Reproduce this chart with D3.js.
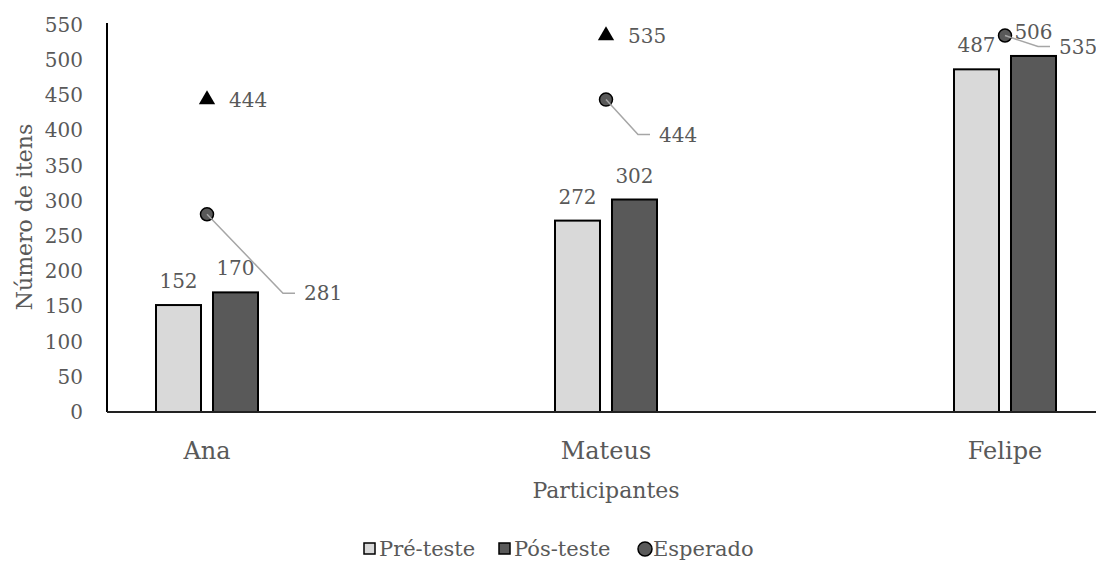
<!DOCTYPE html>
<html>
<head>
<meta charset="utf-8">
<script src="https://cdn.jsdelivr.net/npm/d3@7"></script>
<style>
  html, body { margin: 0; padding: 0; background: #fff; }
  svg { display: block; font-family: "DejaVu Serif", serif; }
</style>
</head>
<body>
<svg id="chart" width="1096" height="572"></svg>
<script>
// Participants and their scores
const participantes = ["Ana", "Mateus", "Felipe"];
const preTeste = [152, 272, 487];
const posTeste = [170, 302, 506];
const esperado = [281, 444, 535];
const meta = [444, 535, null];
const yTicks = [0, 50, 100, 150, 200, 250, 300, 350, 400, 450, 500, 550];

// Leader-line elbows for the "Esperado" labels (pixel offsets from the point)
const leaderOffsets = [[76, 79], [32, 35], [33, 11]];

const svg = d3.select("#chart");
const textColor = "#595959";
const fontSize = 20;

const x = d3.scalePoint().domain(participantes).range([207, 1005]);
const sub = d3.scaleBand().domain(["pre", "pos"]).range([-51, 51]).paddingInner(0.2105);
const y = d3.scaleLinear().domain([0, 550]).range([412, 25]);

// Y axis labels
const yAxis = d3.axisLeft(y).tickValues(yTicks).tickSize(0).tickPadding(0);
const gy = svg.append("g").attr("transform", "translate(83,0)").call(yAxis);
gy.select(".domain").remove();
gy.selectAll("text")
  .attr("fill", textColor)
  .style("font-size", fontSize + "px")
  .style("font-family", "DejaVu Serif, serif");

// Y axis line
svg.append("line")
  .attr("x1", 107).attr("x2", 107)
  .attr("y1", y(0)).attr("y2", y(550) - 2)
  .attr("stroke", "#000").attr("stroke-width", 2);

// Bars
const series = [
  { key: "pre", values: preTeste, fill: "#d9d9d9" },
  { key: "pos", values: posTeste, fill: "#595959" }
];
series.forEach(s => {
  const g = svg.append("g");
  g.selectAll("rect")
    .data(participantes.map((p, i) => ({ p, v: s.values[i] })))
    .join("rect")
    .attr("x", d => x(d.p) + sub(s.key))
    .attr("y", d => y(d.v))
    .attr("width", sub.bandwidth())
    .attr("height", d => y(0) - y(d.v))
    .attr("fill", s.fill)
    .attr("stroke", "#000")
    .attr("stroke-width", 2);
  g.selectAll("text")
    .data(participantes.map((p, i) => ({ p, v: s.values[i] })))
    .join("text")
    .attr("x", d => x(d.p) + sub(s.key) + sub.bandwidth() / 2)
    .attr("y", d => y(d.v) - 17)
    .attr("text-anchor", "middle")
    .attr("fill", textColor)
    .style("font-size", fontSize + "px")
    .text(d => d.v);
});

// X axis line
svg.append("line")
  .attr("x1", 107).attr("x2", 1096)
  .attr("y1", y(0)).attr("y2", y(0))
  .attr("stroke", "#222").attr("stroke-width", 2);

// Category labels
svg.append("g").selectAll("text")
  .data(participantes)
  .join("text")
  .attr("x", d => x(d))
  .attr("y", 459)
  .attr("text-anchor", "middle")
  .attr("fill", textColor)
  .style("font-size", "24px")
  .text(d => d);

// Target markers (triangles) with labels
const metaData = participantes.map((p, i) => ({ p, v: meta[i] })).filter(d => d.v != null);
const gm = svg.append("g");
gm.selectAll("path")
  .data(metaData)
  .join("path")
  .attr("d", d3.symbol().type(d3.symbolTriangle).size(115))
  .attr("transform", d => `translate(${x(d.p)},${y(d.v)})`)
  .attr("fill", "#000");
gm.selectAll("text")
  .data(metaData)
  .join("text")
  .attr("x", d => x(d.p) + 22)
  .attr("y", d => y(d.v) + 7)
  .attr("fill", textColor)
  .style("font-size", fontSize + "px")
  .text(d => d.v);

// Expected values (circles) with leader lines and labels
const espData = participantes.map((p, i) => ({ p, v: esperado[i], off: leaderOffsets[i] }));
const ge = svg.append("g");
ge.selectAll("path")
  .data(espData)
  .join("path")
  .attr("d", d => {
    const px = x(d.p), py = y(d.v);
    const ex = px + d.off[0], ey = py + d.off[1];
    return `M${px},${py}L${ex},${ey}L${ex + 12},${ey}`;
  })
  .attr("fill", "none")
  .attr("stroke", "#a6a6a6")
  .attr("stroke-width", 1.5);
ge.selectAll("circle")
  .data(espData)
  .join("circle")
  .attr("cx", d => x(d.p))
  .attr("cy", d => y(d.v))
  .attr("r", 6.5)
  .attr("fill", "#595959")
  .attr("stroke", "#000")
  .attr("stroke-width", 1.5);
// short segment of the leader line kept visible over the circle
ge.selectAll("path.inner")
  .data(espData)
  .join("path")
  .attr("class", "inner")
  .attr("d", d => {
    const px = x(d.p), py = y(d.v);
    const t = 7 / Math.hypot(d.off[0], d.off[1]);
    return `M${px},${py}L${px + d.off[0] * t},${py + d.off[1] * t}`;
  })
  .attr("stroke", "#a6a6a6")
  .attr("stroke-width", 1.5);
ge.selectAll("text")
  .data(espData)
  .join("text")
  .attr("x", d => x(d.p) + d.off[0] + 21)
  .attr("y", d => y(d.v) + d.off[1] + 7)
  .attr("fill", textColor)
  .style("font-size", fontSize + "px")
  .text(d => d.v);

// Axis titles
svg.append("text")
  .attr("x", 606).attr("y", 498)
  .attr("text-anchor", "middle")
  .attr("fill", textColor)
  .style("font-size", "22px")
  .text("Participantes");
svg.append("text")
  .attr("transform", "translate(32,217) rotate(-90)")
  .attr("text-anchor", "middle")
  .attr("fill", textColor)
  .style("font-size", "22px")
  .text("Número de itens");

// Legend
const legend = svg.append("g").attr("transform", "translate(0,549)");
const items = [
  { label: "Pré-teste", shape: "rect", fill: "#d9d9d9", x: 363 },
  { label: "Pós-teste", shape: "rect", fill: "#595959", x: 498 },
  { label: "Esperado", shape: "circle", fill: "#595959", x: 637 }
];
items.forEach(it => {
  if (it.shape === "rect") {
    legend.append("rect")
      .attr("x", it.x + 1).attr("y", -6)
      .attr("width", 11).attr("height", 11)
      .attr("fill", it.fill).attr("stroke", "#000").attr("stroke-width", 1.5);
  } else {
    legend.append("circle")
      .attr("cx", it.x + 8).attr("cy", 0).attr("r", 7)
      .attr("fill", it.fill).attr("stroke", "#000").attr("stroke-width", 1.5);
  }
  legend.append("text")
    .attr("x", it.x + 16).attr("y", 7)
    .attr("fill", textColor)
    .style("font-size", "21px")
    .text(it.label);
});
</script>
</body>
</html>
